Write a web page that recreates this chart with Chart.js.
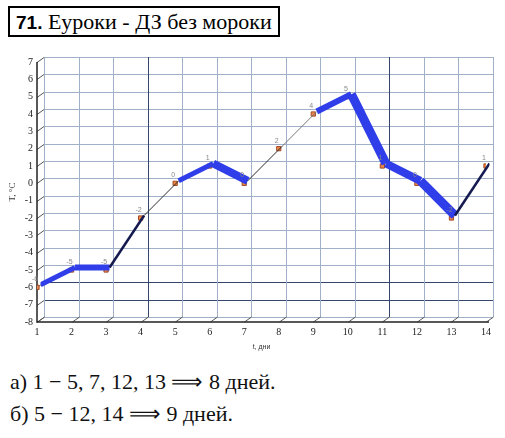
<!DOCTYPE html>
<html>
<head>
<meta charset="utf-8">
<script src="https://cdn.jsdelivr.net/npm/chart.js@4.4.1/dist/chart.umd.min.js"></script>
<style>
  body { margin: 0; background: #fff; width: 505px; height: 438px; position: relative; overflow: hidden; }
  #wrap { position: absolute; left: 0; top: 0; width: 505px; height: 360px; }
  #head { position: absolute; left: 8px; top: 6px; width: 262px; height: 27px; border: 2px solid #000;
          font-family: "Liberation Serif", serif; font-size: 22px; line-height: 27px; padding-left: 6px; white-space: nowrap; }
  #head b { font-family: "Liberation Sans", sans-serif; font-size: 19px; }
  .ans { position: absolute; left: 10px; font-family: "Liberation Serif", serif; font-size: 22px; white-space: nowrap; color: #111; }
</style>
</head>
<body>
<div id="head"><b>71.</b> Еуроки - ДЗ без мороки</div>
<div id="wrap"><canvas id="myChart" width="505" height="360"></canvas></div>
<div class="ans" style="top:369px">а) 1 − 5, 7, 12, 13 ⟹ 8 дней.</div>
<div class="ans" style="top:401px">б) 5 − 12, 14 ⟹ 9 дней.</div>
<script>
// дни и температура
var dias = [1,2,3,4,5,6,7,8,9,10,11,12,13,14];
var temp = [-6,-5,-5,-2,0,1,0,2,4,5,1,0,-2,1];
var yTicks = [-8,-7,-6,-5,-4,-3,-2,-1,0,1,2,3,4,5,6,7];

var puntos = dias.map(function(d, i){ return {x: d, y: temp[i]}; });

// segmentos gruesos (cinta azul) y su grosor
var cinta = {0:5, 1:6, 4:5, 5:8, 8:6, 9:9, 10:8, 11:9};
var oscuro = {2:2.5, 12:2.5};

var DX = 7, DY = -5;

var plano = {
  id: "plano",
  beforeDatasetsDraw: function(chart){
    var ctx = chart.ctx, a = chart.chartArea;
    var sx = chart.scales.x, sy = chart.scales.y;
    ctx.save();
    ctx.lineWidth = 1;
    yTicks.forEach(function(v){
      var py = Math.round(sy.getPixelForValue(v)) + 0.5;
      ctx.strokeStyle = (v == -6 || v == -7) ? "#33456a" : "#9fb0c8";
      ctx.beginPath();
      ctx.moveTo(a.left + DX, py + DY);
      ctx.lineTo(a.right + DX, py + DY);
      ctx.stroke();
      ctx.strokeStyle = "#555";
      ctx.beginPath();
      ctx.moveTo(a.left, py);
      ctx.lineTo(a.left + DX, py + DY);
      ctx.stroke();
    });
    dias.forEach(function(d){
      var px = Math.round(sx.getPixelForValue(d)) + 0.5;
      ctx.strokeStyle = (d == 4 || d == 11) ? "#33456a" : "#9fb0c8";
      ctx.beginPath();
      ctx.moveTo(px + DX, a.top + DY);
      ctx.lineTo(px + DX, a.bottom + DY);
      ctx.stroke();
      ctx.strokeStyle = "#555";
      ctx.beginPath();
      ctx.moveTo(px, a.bottom);
      ctx.lineTo(px + DX, a.bottom + DY);
      ctx.stroke();
    });
    // ejes delanteros
    ctx.strokeStyle = "#222";
    ctx.lineWidth = 1.5;
    ctx.beginPath();
    ctx.moveTo(a.left, a.top);
    ctx.lineTo(a.left, a.bottom);
    ctx.lineTo(a.right + 3, a.bottom);
    ctx.stroke();
    ctx.restore();
  },
  beforeDatasetDraw: function(chart, args){
    if (args.index === 0) { chart.ctx.save(); chart.ctx.translate(3.5, -2.5); }
  },
  afterDatasetDraw: function(chart, args){
    if (args.index === 0) chart.ctx.restore();
  },
  afterDatasetsDraw: function(chart){
    var ctx = chart.ctx, sx = chart.scales.x, sy = chart.scales.y;
    ctx.save();
    ctx.fillStyle = "#888";
    ctx.font = "7px 'Liberation Sans'";
    ctx.textAlign = "center";
    dias.forEach(function(d, i){
      ctx.fillText(String(temp[i]), sx.getPixelForValue(d) - 2, sy.getPixelForValue(temp[i]) - 6);
    });
    ctx.restore();
  }
};

new Chart("myChart", {
  type: "line",
  data: {
    datasets: [{
      data: puntos,
      borderColor: "#2a2a2a",
      borderWidth: 1,
      borderJoinStyle: "round",
      pointRadius: 0,
      order: 1,
      segment: {
        borderColor: function(c){
          var i = c.p0DataIndex;
          if (cinta[i]) return "#2f3ee8";
          if (oscuro[i]) return "#141a50";
          return i == 7 ? "#777" : "#2a2a2a";
        },
        borderWidth: function(c){
          var i = c.p0DataIndex;
          return cinta[i] || oscuro[i] || 1;
        }
      }
    }, {
      data: puntos,
      showLine: false,
      pointStyle: "rect",
      pointRadius: 3,
      backgroundColor: "#f0884a",
      borderColor: "#a04a25",
      borderWidth: 1,
      order: 2
    }]
  },
  options: {
    responsive: false,
    animation: false,
    layout: { padding: { top: 62, right: 19, left: 0, bottom: 0 } },
    plugins: { legend: { display: false }, tooltip: { enabled: false } },
    scales: {
      x: {
        type: "linear", min: 1, max: 14,
        afterFit: function(s){ s.height = 38; },
        grid: { display: false, drawTicks: false },
        border: { display: false },
        ticks: { stepSize: 1, padding: 4, color: "#222", font: { family: "Liberation Serif", size: 10 } },
        title: { display: true, text: "t, дни", color: "#333", font: { family: "Liberation Sans", size: 7 }, padding: { top: 0, bottom: 9 } }
      },
      y: {
        min: -8, max: 7,
        afterFit: function(s){ s.width = 37; },
        grid: { display: false, drawTicks: false },
        border: { display: false },
        ticks: { stepSize: 1, padding: 4, color: "#222", font: { family: "Liberation Serif", size: 10 } },
        title: { display: true, text: "T, °C", color: "#333", font: { family: "Liberation Serif", size: 9 }, padding: { top: 7, bottom: 0 } }
      }
    }
  },
  plugins: [plano]
});
</script>
</body>
</html>
